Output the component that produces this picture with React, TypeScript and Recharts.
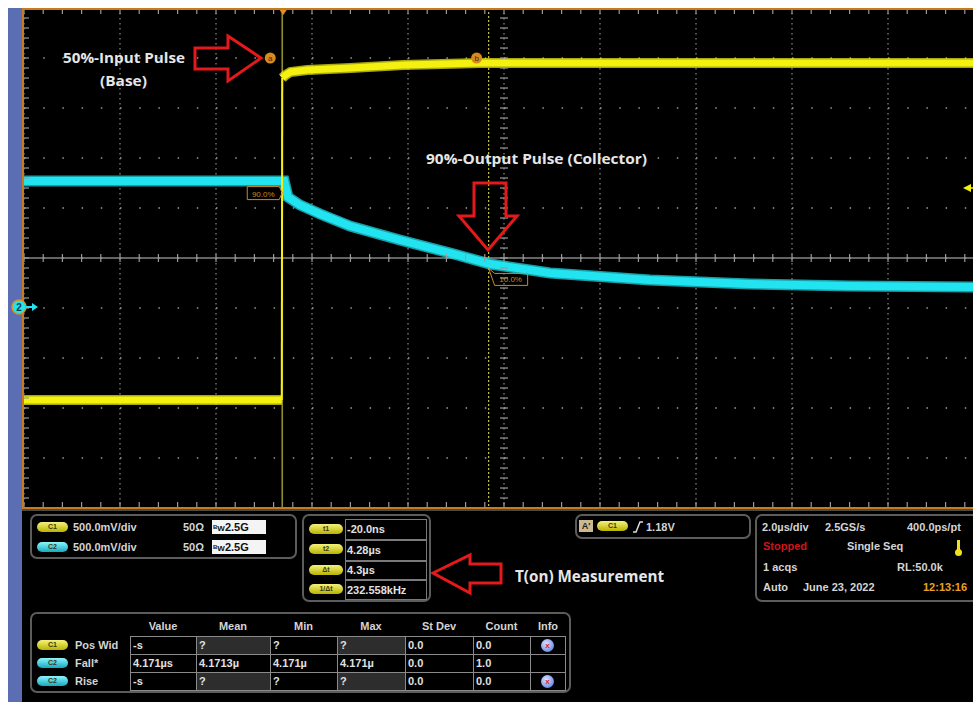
import React from 'react'
import {
  ComposedChart,
  Line,
  Scatter,
  XAxis,
  YAxis,
  CartesianGrid,
  ReferenceLine,
  ReferenceDot
} from 'recharts'

// time in µs relative to trigger, voltage on screen (500 mV/div)
const c1LowTime = [-5.4, -0.03]
const c1LowVolt = [-1.42, -1.42]
const c1EdgeTime = [-0.03, -0.02]
const c1EdgeVolt = [-1.42, 1.8]
const c1HighTime = [-0.02, 0.05, 0.15, 0.5, 1.4, 2.5, 4.1, 8.0, 14.6]
const c1HighVolt = [1.8, 1.83, 1.86, 1.88, 1.9, 1.93, 1.95, 1.95, 1.95]

const c2Time = [-5.4, 0.02, 0.1, 0.35, 0.77, 1.39, 2.43, 3.48, 4.31, 5.56, 7.64, 9.73, 11.81, 14.6]
const c2Volt = [0.77, 0.77, 0.61, 0.53, 0.44, 0.32, 0.18, 0.05, -0.06, -0.15, -0.22, -0.26, -0.28, -0.29]

const t1 = -0.02
const t2 = 4.28
const level90 = 0.664
const level10 = -0.184

const minorX = Array.from({ length: 51 }, (_, i) => +(-5.4 + i * 0.4).toFixed(2))
const majorX = Array.from({ length: 11 }, (_, i) => +(-5.4 + i * 2).toFixed(2))
const minorY = Array.from({ length: 51 }, (_, i) => +(-2.5 + i * 0.1).toFixed(2))
const majorY = Array.from({ length: 11 }, (_, i) => +(-2.5 + i * 0.5).toFixed(2))

const cursorLabels = ['t1', 't2', 'Δt', '1/Δt']
const cursorValues = ['-20.0ns', '4.28µs', '4.3µs', '232.558kHz']

const measHeaders = ['Value', 'Mean', 'Min', 'Max', 'St Dev', 'Count', 'Info']
const measChannels = ['C1', 'C2', 'C2']
const measNames = ['Pos Wid', 'Fall*', 'Rise']
const measValues = [
  ['-s', '?', '?', '?', '0.0', '0.0'],
  ['4.171µs', '4.1713µ', '4.171µ', '4.171µ', '0.0', '1.0'],
  ['-s', '?', '?', '?', '0.0', '0.0']
]
const measInfo = [true, false, true]

const zip = (ts: number[], vs: number[]) => ts.map((t, i) => ({ t, v: vs[i] }))

const YEL = '#f4f010'
const CYA = '#22e4f0'
const ORANGE = '#c97a1a'
const TICK = '#9a9a9a'
const FONT = '"Liberation Sans", Arial, sans-serif'

const pillBg: Record<string, string> = {
  C1: 'linear-gradient(#f6f27a, #b9b300)',
  C2: 'linear-gradient(#8ff4fa, #12aac2)'
}

function Pill({ x, y, w = 31, h = 10, ch = 'C1', label }: any) {
  return (
    <div style={{
      position: 'absolute', left: x, top: y, width: w, height: h, borderRadius: h / 2,
      background: pillBg[ch], color: '#3a3a10', fontSize: 7, lineHeight: h + 'px',
      textAlign: 'center', fontFamily: FONT, fontWeight: 700
    }}>{label ?? ch}</div>
  )
}

function Txt({ x, y, children, color = '#d4d4d4', size = 11, w, align }: any) {
  return (
    <div style={{
      position: 'absolute', left: x, top: y - 7, lineHeight: '14px', fontSize: size,
      fontWeight: 700, color, fontFamily: FONT, whiteSpace: 'nowrap',
      width: w, textAlign: align
    }}>{children}</div>
  )
}

function Panel({ x, y, w, h }: any) {
  return (
    <div style={{
      position: 'absolute', left: x, top: y, width: w, height: h, boxSizing: 'border-box',
      border: '2px solid #5c5c5c', borderRadius: 7
    }} />
  )
}

const cursorTag = (letter: string) => (p: any) => (
  <g>
    <circle cx={p.cx - 12} cy={p.cy} r={5.5} fill="#d98a1c" />
    <text x={p.cx - 12} y={p.cy + 3} fontSize={8} textAnchor="middle" fill="#4a2800" fontFamily={FONT}>{letter}</text>
  </g>
)

const pctTagLeft = (p: any) => (
  <g>
    <path d={`M${p.cx - 35},${p.cy - 5} H${p.cx - 3} L${p.cx},${p.cy + 1} L${p.cx - 3},${p.cy + 8} H${p.cx - 35} Z`} fill="none" stroke="#c98a24" strokeWidth={1} />
    <text x={p.cx - 19} y={p.cy + 5} fontSize={8} textAnchor="middle" fill="#c98a24" fontFamily={FONT}>90.0%</text>
  </g>
)

const pctTagRight = (p: any) => (
  <g>
    <path d={`M${p.cx},${p.cy - 8} L${p.cx + 6},${p.cy - 3} H${p.cx + 39} V${p.cy + 9} H${p.cx + 6} Z`} fill="none" stroke="#c98a24" strokeWidth={1} />
    <text x={p.cx + 22} y={p.cy + 6} fontSize={8} textAnchor="middle" fill="#c98a24" fontFamily={FONT}>10.0%</text>
  </g>
)

const trigMark = (p: any) => (
  <polygon points={`${p.cx - 5},${p.cy} ${p.cx + 5},${p.cy} ${p.cx},${p.cy + 7}`} fill="#e0901e" />
)

const vTick = (p: any) => <line x1={p.cx} x2={p.cx} y1={p.cy - 4} y2={p.cy + 4} stroke={TICK} strokeWidth={1.2} />
const hTick = (p: any) => <line x1={p.cx - 4} x2={p.cx + 4} y1={p.cy} y2={p.cy} stroke={TICK} strokeWidth={1.2} />

function Scope() {
  const centerT = majorX[5]
  return (
    <ComposedChart width={964} height={500} margin={{ top: 0, right: 2, left: 2, bottom: 0 }}>
      <CartesianGrid xAxisId="top" horizontal={false} verticalValues={majorX} stroke="#8c8c8c" strokeWidth={1.2} strokeDasharray="1.5 3.5" />
      <CartesianGrid xAxisId="top" vertical={false} horizontalValues={majorY} stroke="#9a9a9a" strokeWidth={1.5} strokeDasharray="1.5 17.7" />
      <XAxis xAxisId="top" orientation="top" mirror dataKey="t" type="number" domain={[-5.4, 14.6]} ticks={minorX}
        allowDataOverflow axisLine={false} tickSize={6} tickLine={{ stroke: TICK, strokeWidth: 1.2 }} tickFormatter={() => ''} height={1} />
      <XAxis xAxisId="bot" orientation="bottom" mirror dataKey="t" type="number" domain={[-5.4, 14.6]} ticks={minorX}
        allowDataOverflow axisLine={false} tickSize={6} tickLine={{ stroke: TICK, strokeWidth: 1.2 }} tickFormatter={() => ''} height={1} />
      <YAxis mirror type="number" domain={[-2.5, 2.5]} ticks={minorY} allowDataOverflow axisLine={false}
        tickSize={5} tickLine={{ stroke: TICK, strokeWidth: 1.2 }} tickFormatter={() => ''} width={1} />
      <ReferenceLine xAxisId="top" y={0} stroke="#858585" strokeWidth={1.5} />
      <Scatter xAxisId="top" data={minorX.map((t) => ({ t, v: 0 }))} dataKey="v" shape={vTick} isAnimationActive={false} />
      <Scatter xAxisId="top" data={minorY.map((v) => ({ t: centerT, v }))} dataKey="v" shape={hTick} isAnimationActive={false} />
      <ReferenceLine xAxisId="top" x={t1} stroke="#8f8d2c" strokeWidth={1.6} />
      <ReferenceLine xAxisId="top" x={t2} stroke="#c9c23a" strokeWidth={1.2} strokeDasharray="2 2" />

      <Line xAxisId="top" data={zip(c2Time, c2Volt)} dataKey="v" stroke={CYA} strokeOpacity={0.7} strokeWidth={11} dot={false} isAnimationActive={false} />
      <Line xAxisId="top" data={zip(c2Time, c2Volt)} dataKey="v" stroke={CYA} strokeWidth={8} dot={false} isAnimationActive={false} />
      <Line xAxisId="top" data={zip(c1LowTime, c1LowVolt)} dataKey="v" stroke={YEL} strokeOpacity={0.7} strokeWidth={10} dot={false} isAnimationActive={false} />
      <Line xAxisId="top" data={zip(c1LowTime, c1LowVolt)} dataKey="v" stroke={YEL} strokeWidth={7} dot={false} isAnimationActive={false} />
      <Line xAxisId="top" data={zip(c1EdgeTime, c1EdgeVolt)} dataKey="v" stroke={YEL} strokeWidth={2} dot={false} isAnimationActive={false} />
      <Line xAxisId="top" data={zip(c1HighTime, c1HighVolt)} dataKey="v" stroke={YEL} strokeOpacity={0.7} strokeWidth={10} dot={false} isAnimationActive={false} />
      <Line xAxisId="top" data={zip(c1HighTime, c1HighVolt)} dataKey="v" stroke={YEL} strokeWidth={7} dot={false} isAnimationActive={false} />

      <ReferenceDot xAxisId="top" x={0} y={2.5} shape={trigMark} />
      <ReferenceDot xAxisId="top" x={t1} y={2.0} shape={cursorTag('a')} />
      <ReferenceDot xAxisId="top" x={t2} y={2.0} shape={cursorTag('b')} />
      <ReferenceDot xAxisId="top" x={t1} y={level90} shape={pctTagLeft} />
      <ReferenceDot xAxisId="top" x={t2} y={level10} shape={pctTagRight} />
    </ComposedChart>
  )
}

const colEdges = [130, 196, 270, 337, 405, 473, 530, 566]
const rowEdges = [636, 654, 672, 690]

export default function App() {
  return (
    <div style={{ position: 'absolute', left: 0, top: 0, width: 973, height: 702, overflow: 'hidden', background: '#fff', fontFamily: FONT }}>
      <div style={{ position: 'absolute', left: 8, top: 8, width: 14, height: 694, background: '#5b6db3' }} />
      <div style={{ position: 'absolute', left: 22, top: 8, width: 951, height: 694, background: '#000' }} />
      <div style={{ position: 'absolute', left: 22, top: 8, width: 951, height: 500, overflow: 'hidden' }}>
        <Scope />
      </div>
      <div style={{ position: 'absolute', left: 22, top: 8, width: 970, height: 501, boxSizing: 'border-box', border: `2px solid ${ORANGE}` }} />
      <div style={{ position: 'absolute', left: 22, top: 509, width: 951, height: 2, background: '#4a4a4a' }} />

      {/* annotations */}
      <svg width={973} height={702} style={{ position: 'absolute', left: 0, top: 0 }}>
        <g fill="none" stroke="#e3191b" strokeWidth={3} strokeLinejoin="miter">
          <polygon points="195,48 228,48 228,36 261,58 228,81 228,69 195,69" />
          <polygon points="474,183 506,183 506,216 517,216 488,250 459,216 474,216" />
          <polygon points="433,573 470,555 470,564 501,564 501,583 470,583 470,593" />
        </g>
        <g fill="#e6e6e6" fontFamily='"Open Sans", sans-serif' fontWeight={700}>
          <text x={63} y={63} fontSize={14} textLength={122} lengthAdjust="spacingAndGlyphs">50%-Input Pulse</text>
          <text x={100} y={86} fontSize={14} textLength={47} lengthAdjust="spacingAndGlyphs">(Base)</text>
          <text x={426} y={164} fontSize={14} textLength={221} lengthAdjust="spacingAndGlyphs">90%-Output Pulse (Collector)</text>
          <text x={515} y={582} fontSize={16} textLength={149} lengthAdjust="spacingAndGlyphs">T(on) Measurement</text>
        </g>
        {/* channel 2 ground marker */}
        <circle cx={19} cy={307} r={7} fill={CYA} stroke="#d89028" strokeWidth={1.5} />
        <text x={19} y={311} fontSize={10} fontWeight={700} textAnchor="middle" fill="#0d3b40" fontFamily={FONT}>2</text>
        <line x1={26} y1={307} x2={33} y2={307} stroke={CYA} strokeWidth={2} />
        <polygon points="32,303 38,307 32,311" fill={CYA} />
        {/* trigger level marker */}
        <polygon points="963,188 971,184 971,192" fill={YEL} />
        <line x1={970} y1={188} x2={973} y2={188} stroke={YEL} strokeWidth={1.5} />
      </svg>

      {/* channel panel */}
      <Panel x={30} y={514} w={267} h={45} />
      <Pill x={37} y={522} ch="C1" />
      <Txt x={73} y={527}>500.0mV/div</Txt>
      <Txt x={183} y={527}>50Ω</Txt>
      <Pill x={37} y={542} ch="C2" />
      <Txt x={73} y={547}>500.0mV/div</Txt>
      <Txt x={183} y={547}>50Ω</Txt>
      {[520, 540].map((y) => (
        <div key={y} style={{ position: 'absolute', left: 212, top: y, width: 54, height: 14, background: '#f4f4f4', fontFamily: FONT, fontWeight: 700, color: '#111', fontSize: 11, lineHeight: '14px', whiteSpace: 'nowrap' }}>
          <span style={{ fontSize: 6, verticalAlign: 'top', marginLeft: 1 }}>B</span><span style={{ fontSize: 8 }}>W</span>2.5G
        </div>
      ))}

      {/* cursor readout */}
      <Panel x={302} y={514} w={129} h={88} />
      {cursorLabels.map((l, i) => (
        <React.Fragment key={l}>
          <Pill x={309} y={[524, 544, 565, 584][i]} w={34} ch="C1" label={l} />
          <div style={{ position: 'absolute', left: 345, top: [519, 540, 561, 580][i], width: 82, height: [21, 21, 19, 20][i], boxSizing: 'border-box', border: '1px solid #7a7a7a' }} />
          <Txt x={347} y={[529, 550, 570, 590][i]} color="#e0e0e0">{cursorValues[i]}</Txt>
        </React.Fragment>
      ))}

      {/* trigger panel */}
      <Panel x={575} y={514} w={176} h={25} />
      <div style={{ position: 'absolute', left: 579, top: 520, width: 14, height: 12, background: '#cdb98f', color: '#222', fontSize: 9, fontWeight: 700, lineHeight: '12px', textAlign: 'center', fontFamily: FONT }}>A'</div>
      <Pill x={597} y={521} ch="C1" />
      <svg width={12} height={14} style={{ position: 'absolute', left: 632, top: 520 }}>
        <path d="M1,12 H4 L8,2 H11" fill="none" stroke="#ddd" strokeWidth={1.5} />
      </svg>
      <Txt x={646} y={527}>1.18V</Txt>

      {/* timebase panel */}
      <Panel x={755} y={514} w={230} h={88} />
      <Txt x={762} y={527}>2.0µs/div</Txt>
      <Txt x={825} y={527}>2.5GS/s</Txt>
      <Txt x={907} y={527}>400.0ps/pt</Txt>
      <Txt x={763} y={546} color="#d0141a">Stopped</Txt>
      <Txt x={847} y={546}>Single Seq</Txt>
      <div style={{ position: 'absolute', left: 957, top: 540, width: 3, height: 11, background: '#f0e020' }} />
      <div style={{ position: 'absolute', left: 955, top: 549, width: 7, height: 7, borderRadius: 4, background: '#f0e020' }} />
      <Txt x={763} y={567}>1 acqs</Txt>
      <Txt x={897} y={567}>RL:50.0k</Txt>
      <Txt x={763} y={587}>Auto</Txt>
      <Txt x={803} y={587}>June 23, 2022</Txt>
      <Txt x={923} y={587} color="#e8a024">12:13:16</Txt>

      {/* measurement table */}
      <Panel x={30} y={612} w={541} h={81} />
      {measHeaders.map((h, c) => (
        <Txt key={h} x={colEdges[c]} w={colEdges[c + 1] - colEdges[c]} align="center" y={626}>{h}</Txt>
      ))}
      {measNames.map((n, r) => (
        <React.Fragment key={r}>
          <Pill x={37} y={rowEdges[r] + 4} ch={measChannels[r]} />
          <Txt x={75} y={rowEdges[r] + 9}>{n}</Txt>
          {measValues[r].map((v, c) => (
            <div key={c} style={{
              position: 'absolute', left: colEdges[c], top: rowEdges[r], width: colEdges[c + 1] - colEdges[c] + 1,
              height: rowEdges[r + 1] - rowEdges[r] + 1, boxSizing: 'border-box', border: '1px solid #8a8a8a',
              background: (c === 1 || c === 3) && r !== 1 ? '#2d2d2d' : '#000',
              color: '#e0e0e0', fontSize: 11, fontWeight: 700, fontFamily: FONT, lineHeight: '16px', paddingLeft: 2, whiteSpace: 'nowrap'
            }}>{v}</div>
          ))}
          <div style={{ position: 'absolute', left: colEdges[6], top: rowEdges[r], width: colEdges[7] - colEdges[6], height: rowEdges[r + 1] - rowEdges[r] + 1, boxSizing: 'border-box', border: '1px solid #8a8a8a' }} />
          {measInfo[r] && (
            <div style={{ position: 'absolute', left: 541, top: rowEdges[r] + 3, width: 13, height: 13, borderRadius: 7, background: 'radial-gradient(circle at 40% 35%, #d8e4ff, #4a70d8)', color: '#e02020', fontSize: 8, fontWeight: 700, lineHeight: '13px', textAlign: 'center', fontFamily: FONT }}>x</div>
          )}
        </React.Fragment>
      ))}
    </div>
  )
}
